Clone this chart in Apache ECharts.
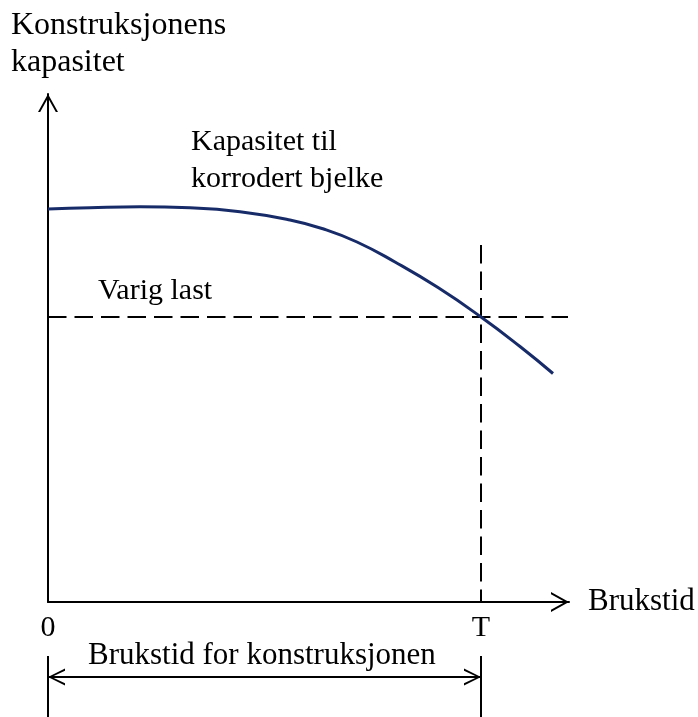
<!DOCTYPE html>
<html>
<head>
<meta charset="utf-8">
<script src="https://cdn.jsdelivr.net/npm/echarts@6/dist/echarts.min.js"></script>
<style>
  html, body { margin: 0; padding: 0; background: #fff; }
  #chart { width: 698px; height: 717px; }
</style>
</head>
<body>
<div id="chart"></div>
<script>
// Schematic: capacity of a corroding beam over its service life
const timeValues = [0, 42, 92, 142, 192, 242, 275, 309, 347, 390, 433, 472, 505];
const capacityValues = [393, 394.3, 395.2, 394.2, 390.3, 382, 373.2, 360, 340, 314.4, 285, 255.5, 228.5];

// Permanent load level and the service life T where capacity meets it
const loadLevel = 285;
const loadLineEnd = 520;
const serviceLife = 433;
const serviceLineTop = 357;

// Extent of the axes (schematic units)
const xMax = 521;
const yMax = 508;

// Service-life bracket below the time axis (values below zero)
const bracketTop = -54;
const bracketBottom = -125;
const bracketArrowLevel = -75;

const tickValues = [0, serviceLife];
const tickLabels = ['0', 'T'];

const SERIF = "'Liberation Serif', 'Times New Roman', serif";

// Open arrow heads
const ARROW_UP = 'path://M0,18 L10,0 L20,18 L17.8,18 L10,4 L2.2,18 Z';
const ARROW_RIGHT = 'path://M0,0 L17,8.5 L0,17 L0,14.8 L13.4,8.5 L0,2.2 Z';
const ARROW_LEFT = 'path://M17,0 L0,8.5 L17,17 L17,14.8 L3.6,8.5 L17,2.2 Z';

const chart = echarts.init(document.getElementById('chart'), null, { renderer: 'canvas' });

const textStyle = (size) => ({
  fontFamily: SERIF, fontSize: size, fontWeight: 'normal', color: '#000', lineHeight: 37
});

const dashed = { color: '#000', width: 2, type: [18.5, 8] };
const solid = { color: '#000', width: 2, type: 'solid' };

chart.setOption({
  animation: false,
  backgroundColor: '#fff',
  title: [
    { text: 'Konstruksjonens\nkapasitet', left: 11, top: 7, padding: 0, textStyle: textStyle(32) },
    { text: 'Kapasitet til\nkorrodert bjelke', left: 191, top: 124, padding: 0, textStyle: textStyle(30) },
    { text: 'Varig last', left: 98, top: 273, padding: 0, textStyle: textStyle(30) },
    { text: 'Brukstid for konstruksjonen', left: 88, top: 637, padding: 0, textStyle: textStyle(31) }
  ],
  grid: { left: 48, top: 94, right: 129, bottom: 115, containLabel: false, outerBoundsMode: 'none' },
  xAxis: {
    type: 'value', min: 0, max: xMax,
    name: 'Brukstid', nameLocation: 'end', nameGap: 19,
    nameTextStyle: { fontFamily: SERIF, fontSize: 31, color: '#000', verticalAlign: 'middle' },
    axisLine: {
      show: true, onZero: false,
      lineStyle: { color: '#000', width: 2 },
      symbol: ['none', ARROW_UP], symbolSize: [20, 18], symbolOffset: [0, -9]
    },
    axisTick: { show: false },
    splitLine: { show: false },
    axisLabel: {
      show: true, customValues: tickValues, margin: 11,
      fontFamily: SERIF, fontSize: 30, color: '#000',
      formatter: (v) => tickLabels[tickValues.indexOf(v)] ?? ''
    }
  },
  yAxis: {
    type: 'value', min: 0, max: yMax,
    axisLine: {
      show: true, onZero: false,
      lineStyle: { color: '#000', width: 2 },
      symbol: ['none', ARROW_UP], symbolSize: [20, 18], symbolOffset: [0, -9]
    },
    axisTick: { show: false },
    splitLine: { show: false },
    axisLabel: { show: false }
  },
  series: [
    {
      name: 'Kapasitet', type: 'line', smooth: 0.5, showSymbol: false, symbol: 'none',
      data: timeValues.map((t, i) => [t, capacityValues[i]]),
      lineStyle: { color: '#172b69', width: 3 }, z: 5
    },
    {
      name: 'Varig last', type: 'line', symbol: 'none', clip: false,
      data: [[0, loadLevel], [loadLineEnd, loadLevel]],
      lineStyle: dashed
    },
    {
      name: 'T', type: 'line', symbol: 'none', clip: false,
      data: [[serviceLife, serviceLineTop], [serviceLife, 0]],
      lineStyle: dashed
    },
    {
      name: 'Start', type: 'line', symbol: 'none', clip: false,
      data: [[0, bracketTop], [0, bracketBottom]],
      lineStyle: solid
    },
    {
      name: 'Slutt', type: 'line', symbol: 'none', clip: false,
      data: [[serviceLife, bracketTop], [serviceLife, bracketBottom]],
      lineStyle: solid
    },
    {
      name: 'Levetid', type: 'line', clip: false, showSymbol: true,
      itemStyle: { color: '#000' },
      lineStyle: solid,
      data: [
        { value: [0, bracketArrowLevel], symbol: ARROW_LEFT, symbolSize: [17, 17], symbolOffset: [8.5, 0] },
        { value: [serviceLife, bracketArrowLevel], symbol: ARROW_RIGHT, symbolSize: [17, 17], symbolOffset: [-8.5, 0] }
      ]
    }
  ]
});
</script>
</body>
</html>
